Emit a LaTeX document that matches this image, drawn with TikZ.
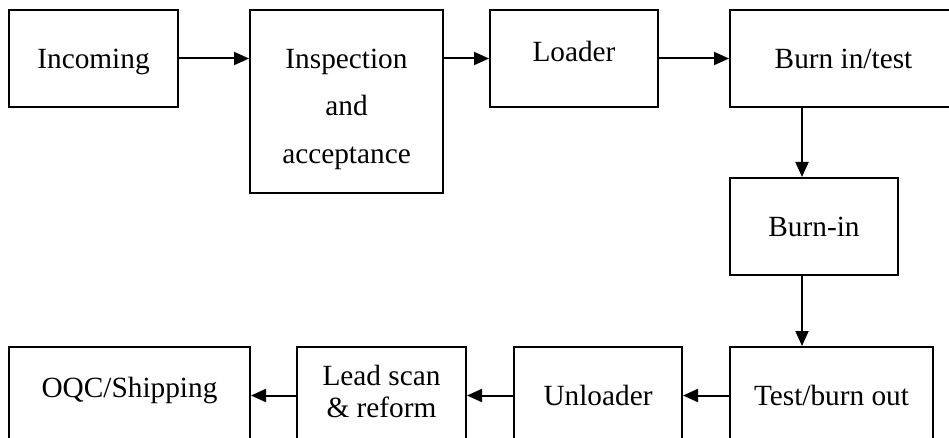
\documentclass[tikz,border=0pt]{standalone}
\usepackage{fontspec}
\setmainfont{Liberation Serif}
\usepackage{tikz}
\usetikzlibrary{arrows.meta, positioning}
\tikzstyle{stage} = [rectangle, draw=black, line width=2pt, inner sep=0pt, minimum height=97pt, text centered, font=\fontsize{29.3}{35}\selectfont]
\tikzstyle{oneline} = [stage, text height=19.4pt, text depth=0pt]
\tikzstyle{arrow} = [line width=2pt, -{Triangle[length=15pt, width=13pt]}]

\begin{document}
\begin{tikzpicture}[x=1pt, y=-1pt]
    \clip (0,0) rectangle (949,438);

    % Top row
    \node[oneline, minimum width=169pt] (incoming) at (93.5, 58.5) {Incoming};
    \node[stage, minimum width=193pt, minimum height=183pt, text height=0pt, text depth=66.4pt, font=\fontsize{29.3}{47.5}\selectfont] (inspect) at (346.5, 101.5) {\begin{tabular}[t]{@{}c@{}}Inspection\\and\\acceptance\end{tabular}};
    \node[oneline, minimum width=168pt, text depth=14pt] (loader) at (574, 58.5) {Loader};
    \node[oneline, minimum width=227pt] (burntest) at (843.5, 58.5) {Burn in/test};

    % Right column
    \coordinate (drop) at (802, 0);
    \node[oneline, minimum width=168pt] (burnin) at (814, 226.5) {Burn-in};

    % Bottom row
    \node[oneline, minimum width=203pt] (testout) at (831.5, 395.5) {Test/burn out};
    \node[oneline, minimum width=168pt] (unloader) at (598, 395.5) {Unloader};
    \node[stage, minimum width=169pt, text height=0pt, text depth=21pt, font=\fontsize{29.3}{32}\selectfont] (leadscan) at (381.5, 395.5) {\begin{tabular}[t]{@{}c@{}}Lead scan\\\& reform\end{tabular}};
    \node[oneline, minimum width=241pt, text depth=15pt] (oqc) at (129.5, 395.5) {OQC/Shipping};

    % Connections
    \draw[arrow] (incoming.east) -- (incoming.east -| inspect.west);
    \draw[arrow] (inspect.east |- loader.west) -- (loader.west);
    \draw[arrow] (loader.east) -- (burntest.west);
    \draw[arrow] (drop |- burntest.south) -- (drop |- burnin.north);
    \draw[arrow] (drop |- burnin.south) -- (drop |- testout.north);
    \draw[arrow] (testout.west) -- (unloader.east);
    \draw[arrow] (unloader.west) -- (leadscan.east);
    \draw[arrow] (leadscan.west) -- (oqc.east);
\end{tikzpicture}
\end{document}
